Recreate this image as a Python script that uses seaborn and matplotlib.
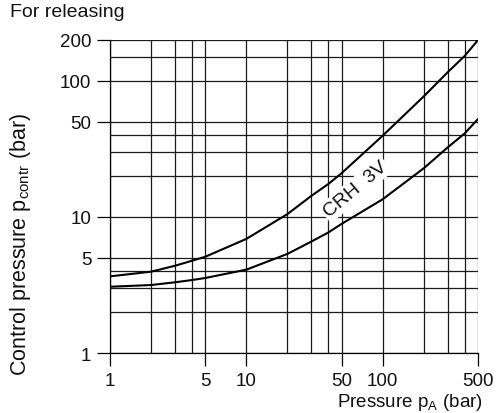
import matplotlib
matplotlib.use("Agg")
import matplotlib.pyplot as plt
from matplotlib.ticker import FixedLocator, NullFormatter
import pandas as pd
import seaborn as sns

# curve values (p_A in bar -> p_contr in bar)
upper_x = [1, 2, 3, 4, 5, 10, 20, 30, 40, 50, 100, 200, 300, 400, 500]
upper_y = [3.66, 3.96, 4.38, 4.77, 5.1, 6.9, 10.5, 14.3, 17.5, 21, 39.6, 77, 116, 153, 200]
lower_x = [1, 2, 3, 4, 5, 10, 20, 30, 40, 50, 100, 200, 300, 400, 500]
lower_y = [3.07, 3.16, 3.31, 3.44, 3.56, 4.1, 5.35, 6.6, 7.7, 8.9, 13.5, 22.8, 32.5, 41.2, 52.5]

x_grid = [1, 2, 3, 4, 5, 10, 20, 30, 40, 50, 100, 200, 300, 400, 500]
y_grid = [1, 2, 3, 4, 5, 10, 20, 30, 40, 50, 100, 150, 200]
x_labels = [1, 5, 10, 50, 100, 500]
y_labels = [1, 5, 10, 50, 100, 200]

df = pd.concat([
    pd.DataFrame({"pA": upper_x, "pc": upper_y, "curve": "upper"}),
    pd.DataFrame({"pA": lower_x, "pc": lower_y, "curve": "lower"}),
])

sns.set_style("white")
plt.rcParams["font.family"] = ["Liberation Sans", "DejaVu Sans"]

fig = plt.figure(figsize=(4.97, 4.14), dpi=100)
ax = fig.add_axes([0.2213, 0.1449, 0.7405, 0.7561])

sns.lineplot(data=df, x="pA", y="pc", hue="curve", palette=["black", "black"],
             linewidth=1.5, legend=False, ax=ax, zorder=3)

ax.set_xscale("log")
ax.set_yscale("log")
ax.set_xlim(1, 500)
ax.set_ylim(1, 200)

ax.xaxis.set_major_locator(FixedLocator(x_labels))
ax.yaxis.set_major_locator(FixedLocator(y_labels))
ax.xaxis.set_minor_locator(FixedLocator([v for v in x_grid if v not in x_labels]))
ax.yaxis.set_minor_locator(FixedLocator([v for v in y_grid if v not in y_labels]))
ax.xaxis.set_minor_formatter(NullFormatter())
ax.yaxis.set_minor_formatter(NullFormatter())
ax.set_xticklabels([str(v) for v in x_labels])
ax.set_yticklabels([str(v) for v in y_labels])

ax.grid(True, which="both", color="#1a1a1a", linewidth=0.9)
ax.tick_params(which="major", direction="out", length=9.5, width=0.9,
               color="black", pad=4, labelsize=13.5, labelcolor="#111",
               bottom=True, left=True)
ax.tick_params(which="minor", length=0)

for side in ["top", "right"]:
    ax.spines[side].set_visible(False)
for side in ["left", "bottom"]:
    ax.spines[side].set_color("black")
    ax.spines[side].set_linewidth(0.9)

ax.set_xlabel("")
ax.set_ylabel("")
fig.text(0.042, 0.41, "Control pressure p$_{\\mathregular{contr}}$ (bar)",
         rotation=90, ha="center", va="center", fontsize=15.5, color="#111")
fig.text(0.972, 0.028, "Pressure p$_{\\mathregular{A}}$ (bar)",
         ha="right", va="center", fontsize=13.5, color="#111")
fig.text(0.02, 0.97, "For releasing", ha="left", va="center",
         fontsize=14, color="#111")

ax.text(63, 16, "CRH  3V", rotation=40, ha="center", va="center",
        fontsize=14, color="#111", zorder=4,
        bbox=dict(facecolor="white", edgecolor="none", pad=1.5))

fig.savefig("out.png", dpi=100)
